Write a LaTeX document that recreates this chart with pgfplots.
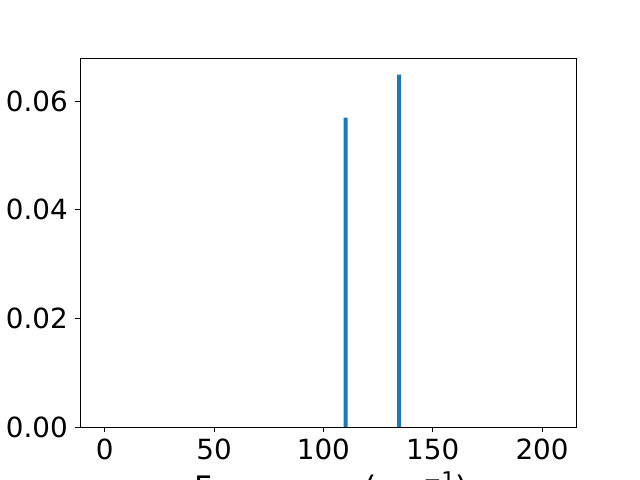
\documentclass[border=0pt]{standalone}
\usepackage{pgfplots}
\pgfplotsset{compat=1.18}
\usepackage{fontspec}
\setmainfont{DejaVu Sans}
\definecolor{mplblue}{HTML}{1F77B4}
\begin{document}
\fontsize{20pt}{24pt}\selectfont
\begin{tikzpicture}[x=1pt,y=1pt]
\useasboundingbox (0,0) rectangle (460.8,345.6);
\clip (0,0) rectangle (460.8,345.6);
\begin{axis}[
  at={(57.6pt,38.2pt)}, anchor=south west,
  scale only axis, width=357.1pt, height=265.7pt,
  xmin=-11.3, xmax=215.5, ymin=0, ymax=0.068,
  xtick={0,50,100,150,200},
  ytick={0,0.02,0.04,0.06},
  tick align=outside, xtick pos=bottom, ytick pos=left,
  major tick length=3.5pt,
  tick style={black, line width=0.6pt},
  axis line style={line width=0.6pt},
  /pgf/number format/assume math mode=true,
  yticklabel={\pgfmathprintnumber[fixed,fixed zerofill,precision=2]{\tick}},
  scaled y ticks=false,
  xticklabel style={font=\fontsize{20pt}{24pt}\selectfont, yshift=1.5pt},
  yticklabel style={font=\fontsize{20pt}{24pt}\selectfont, xshift=1.5pt},
  xlabel={Frequency (cm\raisebox{7.8pt}{\fontsize{15.6pt}{15.6pt}\selectfont −1})},
  xlabel style={font=\fontsize{22.3pt}{26pt}\selectfont, yshift=5.2pt, xshift=2pt},
  ybar, bar width=1.83,
]
\addplot[fill=mplblue, draw=none] coordinates {(110.2,0.0570) (134.6,0.0649)};
\end{axis}
\end{tikzpicture}
\end{document}
